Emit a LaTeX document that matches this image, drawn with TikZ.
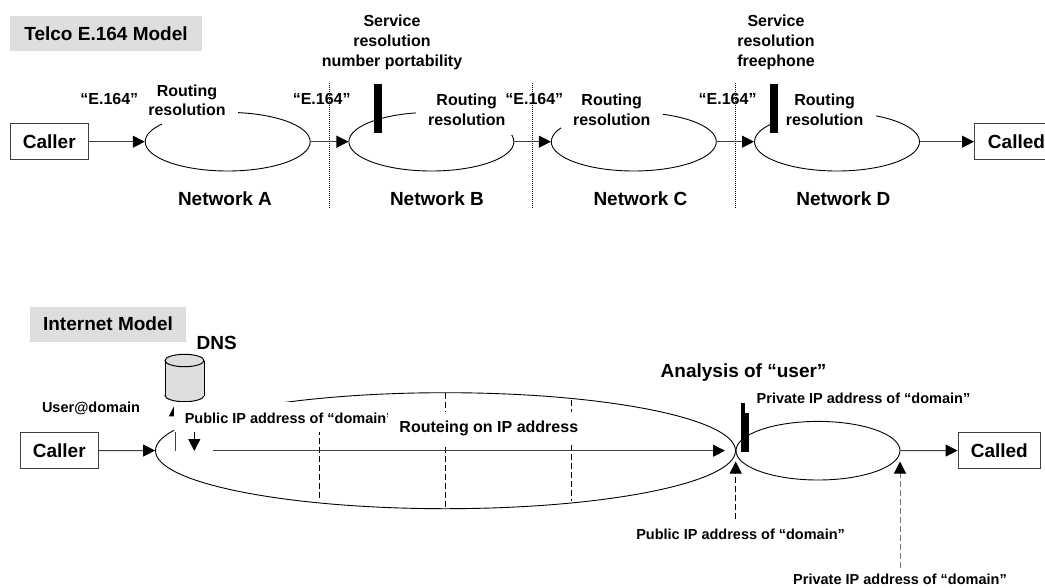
\documentclass[tikz,border=0pt]{standalone}
\usepackage{fontspec}
\setmainfont{Liberation Sans}
\usetikzlibrary{arrows.meta,shapes.geometric}
\tikzset{
  lbl/.style={font=\bfseries\fontsize{16}{20}\selectfont,align=center,inner sep=0pt,text=black},
  big/.style={font=\bfseries\fontsize{19}{23}\selectfont,align=center,inner sep=0pt,text=black},
  small/.style={font=\bfseries\fontsize{14.5}{18}\selectfont,align=center,inner sep=0pt,text=black},
  net/.style={draw=black,line width=0.9pt,ellipse,inner sep=0pt,minimum width=165pt,minimum height=58.6pt},
  endbox/.style={big,draw=black!75,line width=1pt,rectangle,minimum height=36.4pt,fill=white},
  flow/.style={draw=black!75,line width=1pt,-{Triangle[length=12pt,width=12pt,color=black]},shorten >=0pt},
  boundary/.style={draw=black,line width=0.6pt,dash pattern=on 1pt off 1pt},
  zone/.style={draw=black,line width=0.9pt,dash pattern=on 6pt off 3pt},
  bar/.style={fill=black},
  mask/.style={fill=white},
  title/.style={big,fill=black!13,rectangle}
}
\begin{document}
\begin{tikzpicture}[x=1pt,y=-1pt]
\useasboundingbox (0,0) rectangle (1045,587);
\clip (0,0) rectangle (1045,587);
% ---------- Telco model ----------
\node[title,minimum width=192pt,minimum height=35pt] (telco) at (106,33.5) {Telco E.164 Model};
\node[endbox,minimum width=78.5pt] (caller1) at (49.3,141.7) {Caller};
\node[endbox,minimum width=84pt] (called1) at (1016.5,141.7) {Called};
\node[net] (netA) at (227.7,141.7) {};
\node[net] (netB) at (431.4,141.7) {};
\node[net] (netC) at (633.8,141.7) {};
\node[net] (netD) at (837,141.7) {};
\draw[flow] (caller1) -- (netA);
\draw[flow] (netA) -- (netB);
\draw[flow] (netB) -- (netC);
\draw[flow] (netC) -- (netD);
\draw[flow] (netD) -- (called1);
\fill[mask] (161.5,84) rectangle (238,125.3);
\fill[mask] (416,88) rectangle (511.5,135);
\fill[mask] (561,88) rectangle (663.3,128);
\fill[mask] (772,88) rectangle (875.5,127);
\fill[bar] (374,84) rectangle (382,132.7);
\fill[bar] (770.4,84) rectangle (778,132.7);
\node[lbl] (rrA) at (187,100.3) {Routing\\[-1.8pt]resolution};
\node[lbl] (rrB) at (466.7,109.3) {Routing\\resolution};
\node[lbl] (rrC) at (611.7,109.3) {Routing\\resolution};
\node[lbl] (rrD) at (824.6,109.3) {Routing\\resolution};
\node[lbl] (e1) at (109.3,99.3) {“E.164”};
\node[lbl] (e2) at (321.7,99.3) {“E.164”};
\node[lbl] (e3) at (534.3,99.3) {“E.164”};
\node[lbl] (e4) at (727.6,99.3) {“E.164”};
\node[lbl] (srv1) at (392,42.3) {Service\\resolution\\number portability};
\node[lbl] (srv2) at (776,42.3) {Service\\resolution\\freephone};
\node[big] (nA) at (225,198.5) {Network A};
\node[big] (nB) at (437,198.5) {Network B};
\node[big] (nC) at (640.5,198.5) {Network C};
\node[big] (nD) at (843.4,198.5) {Network D};
\coordinate (d1t) at (329.6,83); \coordinate (d1b) at (329.6,208);
\coordinate (d2t) at (532.7,83); \coordinate (d2b) at (532.7,208);
\coordinate (d3t) at (735.3,83); \coordinate (d3b) at (735.3,208);
\draw[boundary] (d1t) -- (d1b);
\draw[boundary] (d2t) -- (d2b);
\draw[boundary] (d3t) -- (d3b);
% ---------- Internet model ----------
\node[title,minimum width=156pt,minimum height=35pt] (inet) at (108,324) {Internet Model};
\node[big] (dnsl) at (216.7,343) {DNS};
\draw[draw=black,line width=1pt,fill=black!13] (184.5,395.5) ellipse[x radius=19.5pt,y radius=6.2pt];
\fill[black!13] (165,360.5) rectangle (204,395.5);
\draw[draw=black,line width=1pt] (165,360.5) -- (165,395.5);
\draw[draw=black,line width=1pt] (204,360.5) -- (204,395.5);
\draw[draw=black,line width=1pt,fill=black!13] (184.5,360.5) ellipse[x radius=19.5pt,y radius=6.2pt];
\coordinate (dns) at (175,404.3);
\coordinate (dnsfoot) at (175,451);
\node[endbox,minimum width=78.5pt] (caller2) at (59.3,450.5) {Caller};
\node[endbox,minimum width=82.5pt] (called2) at (999.3,450.5) {Called};
\node[net,minimum width=580pt,minimum height=116pt] (core) at (445.5,450.7) {};
\node[net,minimum width=164pt] (site) at (818,450.7) {};
\coordinate (z1t) at (319.8,402); \coordinate (z1b) at (319.8,500.7);
\coordinate (z2t) at (445.6,393); \coordinate (z2b) at (445.6,509);
\coordinate (z3t) at (571,400); \coordinate (z3b) at (571,500.7);
\draw[zone] (z1t) -- (z1b);
\draw[zone] (z2t) -- (z2b);
\draw[zone] (z3t) -- (z3b);
\draw[flow] (caller2) -- (core);
\draw[flow] (dnsfoot) -- (dns);
\coordinate (lineS) at (213.3,450.7);
\coordinate (lineE) at (725,450.7);
\fill[mask] (175.6,432.3) rectangle (213.3,450);
\draw[flow] (lineS) -- (lineE);
\fill[mask] (173.5,401.7) rectangle (388,432.3);
\coordinate (downS) at (194.3,432.3);
\coordinate (downE) at (194.3,451);
\draw[flow,draw=black] (downS) -- (downE);
\node[small,anchor=west] (pubtop) at (184.6,418.3) {Public IP address of “domain”};
\fill[mask] (388,411.7) rectangle (585,444.2);
\node[lbl] (route) at (488.8,428.7) {Routeing on IP address};
\node[small] (user) at (91,408.3) {User@domain};
\fill[bar] (741,403.3) rectangle (745,451.7);
\fill[bar] (741,412.7) rectangle (749,451.7);
\draw[flow] (site) -- (called2);
\node[big] (ana) at (743.6,372.7) {Analysis of “user”};
\node[small] (privt) at (863.5,398.3) {Private IP address of “domain”};
\node[small] (pubb) at (740.6,534) {Public IP address of “domain”};
\node[small,anchor=base] (privb) at (900,584) {Private IP address of “domain”};
\coordinate (a1s) at (735.7,519); \coordinate (a1e) at (735.7,461.5);
\coordinate (a2s) at (900,567.7); \coordinate (a2e) at (900,461.5);
\draw[draw=black,line width=1pt,dash pattern=on 6pt off 3pt,-{Triangle[length=12pt,width=12pt,color=black]}] (a1s) -- (a1e);
\draw[draw=black!55,line width=1pt,dash pattern=on 6pt off 3pt,-{Triangle[length=12pt,width=12pt,color=black]}] (a2s) -- (a2e);
\end{tikzpicture}
\end{document}
